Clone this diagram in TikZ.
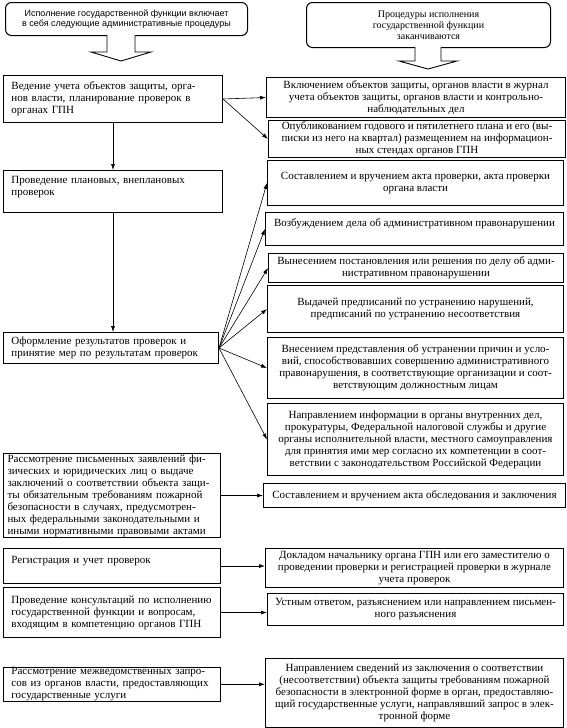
\documentclass[tikz,border=0pt]{standalone}
\usepackage{fontspec}
\setmainfont{Liberation Serif}
\newfontfamily\bodyserif{Liberation Serif}
\newfontfamily\hdsans{Liberation Sans}
\usetikzlibrary{arrows.meta,calc}
\tikzset{
 bx/.style={draw, line width=1pt, inner xsep=5pt, inner ysep=0pt, font=\bodyserif\fontsize{11}{12}\selectfont},
 lbx/.style={bx, align=left, inner xsep=8pt, text width=\tw pt},
 rbx/.style={bx, align=center, inner xsep=1pt},
 hdr/.style={draw, line width=1pt, rounded corners=6pt, inner sep=0pt, align=center},
 con/.style={line width=0.6pt, -{Latex[length=6pt,width=4pt]}},
 hollow/.style={draw, line width=0.9pt, fill=white},
}
\newcommand\mkbox[7][]{%
 \pgfmathsetmacro\bw{#5-#3}\pgfmathsetmacro\bh{#6-#4}\pgfmathsetmacro\tw{#5-#3-16}%
 \node[#1, minimum width=\bw pt, minimum height=\bh pt, anchor=north west] (#2) at (#3,#4) {#7};}
\begin{document}
\begin{tikzpicture}[x=1pt,y=-1pt]
\useasboundingbox (0,0) rectangle (567,728);
% headers
\mkbox[hdr,font=\hdsans\fontsize{9}{10}\selectfont]{hl}{5}{2}{247}{35}{Исполнение государственной функции включает\\в себя следующие административные процедуры}
\mkbox[hdr,font=\bodyserif\fontsize{10}{11}\selectfont]{hr}{306}{2}{550}{47}{Процедуры исполнения\\государственной функции\\заканчиваются}
\draw[hollow] (107,35) -- (107,52) -- (91,52) -- (121,61) -- (151,52) -- (135,52) -- (135,35);
\draw[hollow] (415,47) -- (415,61) -- (399,61) -- (428,69) -- (457,61) -- (441,61) -- (441,47);
% left boxes
\mkbox[lbx]{L1}{3}{75}{222}{122}{Ведение учета объектов защиты, орга-\\нов власти, планирование проверок в\\органах ГПН}
\mkbox[lbx]{L2}{3}{170}{222}{212}{Проведение плановых, внеплановых\\проверок\\\mbox{}}
\mkbox[lbx]{L3}{3}{332}{218}{363}{Оформление результатов проверок и\\принятие мер по результатам проверок}
\mkbox[lbx, inner xsep=4pt, text width=209pt]{L4}{3}{453}{220}{537}{Рассмотрение письменных заявлений фи-\\зических и юридических лиц о выдаче\\заключений о соответствии объекта защи-\\ты обязательным требованиям пожарной\\безопасности в случаях, предусмотрен-\\ных федеральными законодательными и\\иными нормативными правовыми актами}
\mkbox[lbx]{L5}{3}{548}{220}{583}{Регистрация и учет проверок\\\mbox{}}
\mkbox[lbx]{L6}{3}{587}{220}{637}{Проведение консультаций по исполнению\\государственной функции и вопросам,\\входящим в компетенцию органов ГПН}
\mkbox[lbx]{L7}{3}{667}{220}{700}{Рассмотрение межведомственных запро-\\сов из органов власти, предоставляющих\\государственные услуги}
% right boxes
\mkbox[rbx]{R1}{266}{77}{565}{117}{Включением объектов защиты, органов власти в журнал\\учета объектов защиты, органов власти и контрольно-\\наблюдательных дел}
\mkbox[rbx]{R2}{268}{120}{565}{157}{Опубликованием годового и пятилетнего плана и его (вы-\\писки из него на квартал) размещением на информацион-\\ных стендах органов ГПН}
\mkbox[rbx]{R3}{267}{160}{563}{205}{Составлением и вручением акта проверки, акта проверки\\органа власти}
\mkbox[rbx]{R4}{265}{212}{563}{245}{Возбуждением дела об административном правонарушении\\\mbox{}}
\mkbox[rbx]{R5}{268}{253}{563}{282}{Вынесением постановления или решения по делу об адми-\\нистративном правонарушении}
\mkbox[rbx]{R6}{267}{285}{563}{332}{Выдачей предписаний по устранению нарушений,\\предписаний по устранению несоответствия}
\mkbox[rbx]{R7}{267}{337}{563}{398}{Внесением представления об устранении причин и усло-\\вий, способствовавших совершению административного\\правонарушения, в соответствующие организации и соот-\\ветствующим должностным лицам}
\mkbox[rbx]{R8}{267}{403}{563}{475}{Направлением информации в органы внутренних дел,\\прокуратуры, Федеральной налоговой службы и другие\\органы исполнительной власти, местного самоуправления\\для принятия ими мер согласно их компетенции в соот-\\ветствии с законодательством Российской Федерации}
\mkbox[rbx]{R9}{263}{483}{565}{507}{Составлением и вручением акта обследования и заключения}
\mkbox[rbx]{R10}{265}{548}{563}{587}{Докладом начальнику органа ГПН или его заместителю о\\проведении проверки и регистрацией проверки в журнале\\учета проверок}
\mkbox[rbx]{R11}{267}{593}{563}{625}{Устным ответом, разъяснением или направлением письмен-\\ного разъяснения}
\mkbox[rbx]{R12}{265}{658}{563}{727}{Направлением сведений из заключения о соответствии\\(несоответствии) объекта защиты требованиям пожарной\\безопасности в электронной форме в орган, предоставляю-\\щий государственные услуги, направлявший запрос в элек-\\тронной форме}
% connectors
\draw[con] (L1.south) -- (L2.north);
\draw[con] (L2.south) -- (L2.south |- L3.north);
\draw[con] (L1.east) -- (R1.west);
\draw[con] (L1.east) -- (R2.west);
\foreach \r in {R3,R4,R5,R6,R7,R8} \draw[con] (L3.east) -- (\r.west);
\draw[con] (L4.east |- R9.west) -- (R9.west);
\draw[con] (L5.east) -- (L5.east -| R10.west);
\draw[con] (L6.east) -- (L6.east -| R11.west);
\draw[con] (L7.east) -- (L7.east -| R12.west);
\end{tikzpicture}
\end{document}
